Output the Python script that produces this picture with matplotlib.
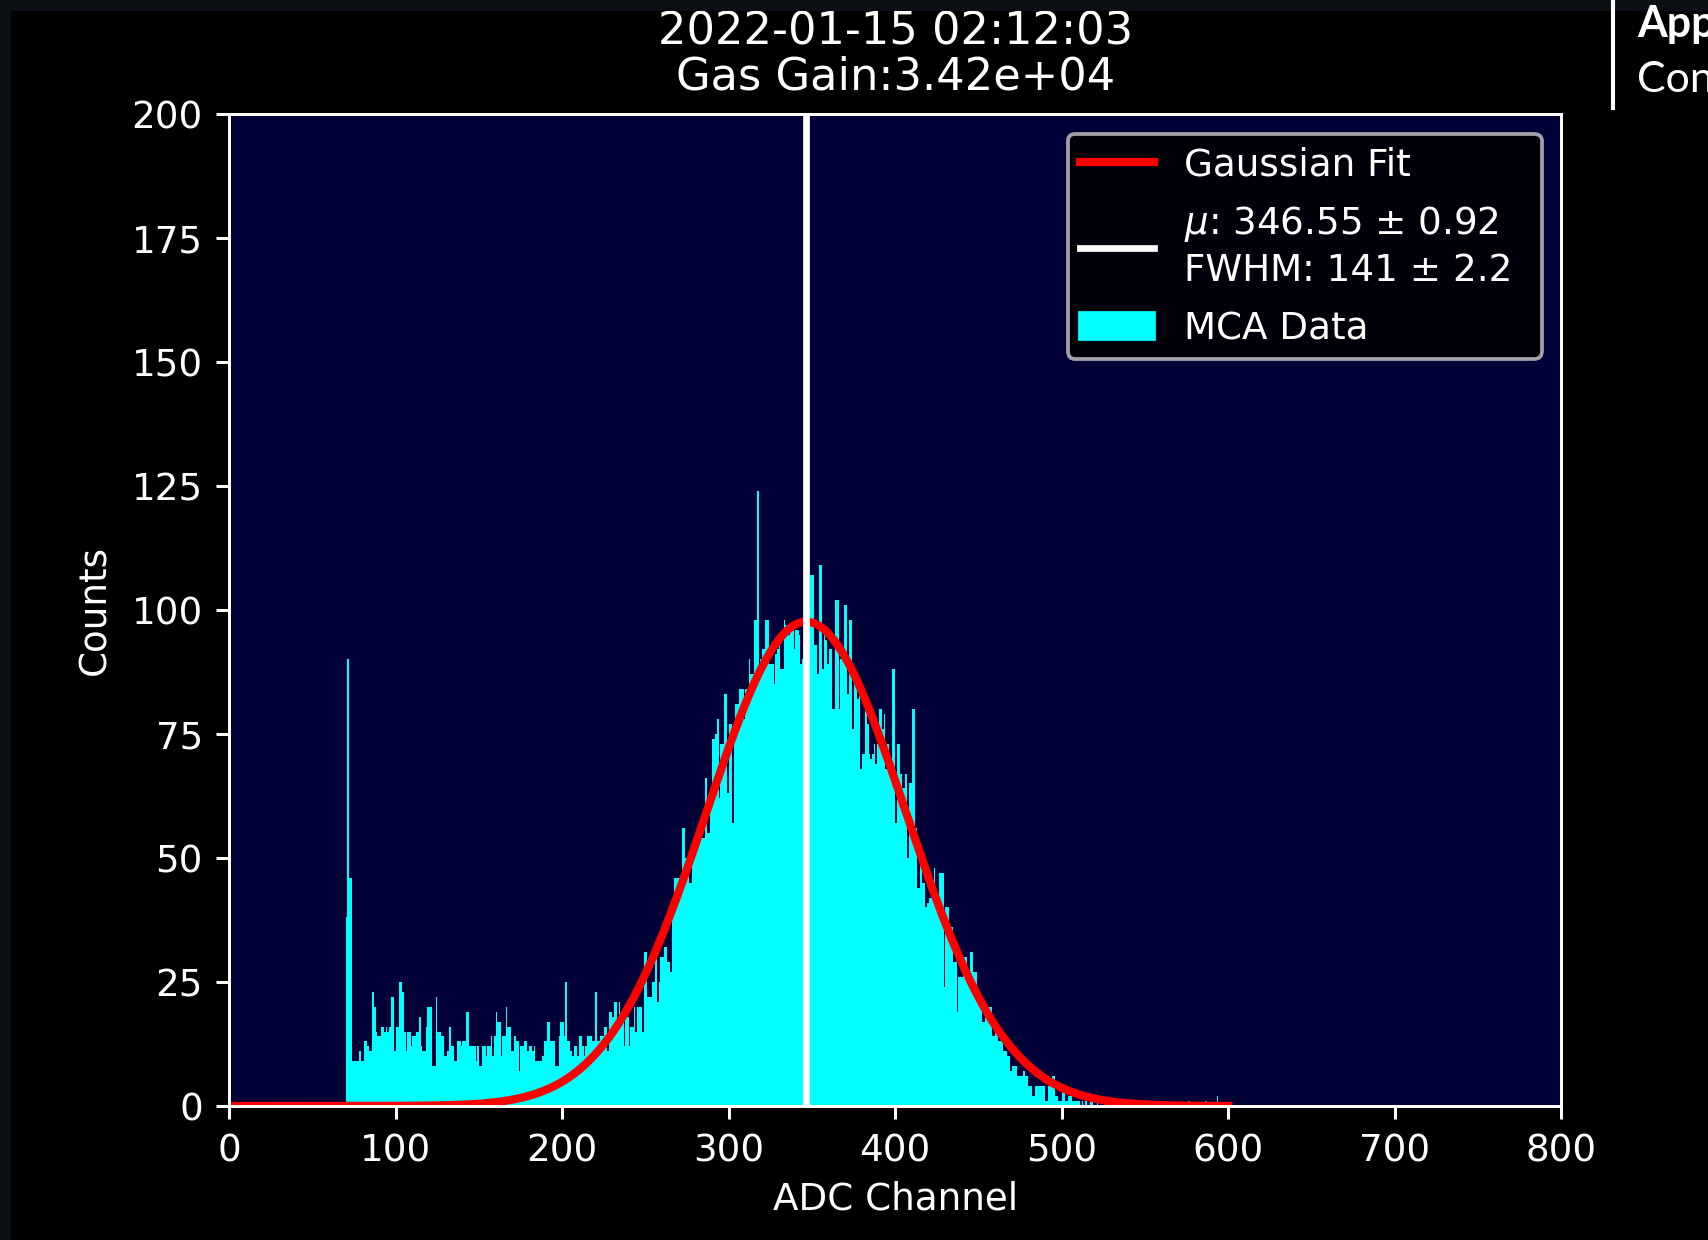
import matplotlib
matplotlib.use("Agg")
import matplotlib.pyplot as plt
import numpy as np
from matplotlib.lines import Line2D
from matplotlib.patches import Patch, Rectangle

# run info shown in the title / legend
timestamp = "2022-01-15 02:12:03"
gas_gain = 3.42e4
mu, mu_err = 346.55, 0.92
fwhm, fwhm_err = 141, 2.2
amplitude = 97.6
fit_start, fit_stop = 0, 600

# MCA counts per ADC channel, starting at channel 70
channel_start = 70
counts = [
    38, 90, 46, 46, 9, 9, 9, 9, 11, 9,
    9, 13, 13, 12, 11, 11, 23, 20, 15, 14,
    14, 16, 16, 15, 16, 15, 16, 22, 22, 11,
    16, 16, 25, 25, 23, 15, 11, 15, 15, 12,
    14, 14, 15, 15, 18, 12, 11, 11, 16, 20,
    20, 20, 8, 8, 22, 15, 15, 14, 14, 10,
    10, 11, 16, 12, 12, 9, 9, 13, 13, 12,
    13, 13, 19, 19, 12, 12, 12, 12, 9, 12,
    8, 8, 12, 12, 10, 12, 12,
    14, 10, 14, 19, 17, 17, 10, 14, 14, 20,
    16, 16, 11, 11, 14, 13, 13, 7, 12, 12,
    13, 13, 11, 12, 12, 11, 12, 9, 9, 9,
    9, 10, 13, 13, 17, 17, 13, 13, 13, 8,
    8, 14, 17, 17, 14, 25, 13, 13, 11, 10,
    12, 12, 10, 14, 14, 12, 10, 12, 14, 14,
    14, 13, 13, 23, 13, 13, 14, 14, 16, 16,
    11, 19, 19, 18, 21, 21, 16, 21, 18, 18,
    12, 18, 18, 12, 16, 16, 20, 15, 20, 20,
    20, 15, 31, 31, 22, 22, 22, 25, 25, 30,
    21, 25, 30, 30, 32, 32, 29, 29, 27, 38,
    46, 46, 46, 46, 46, 56, 56, 50, 50, 45,
    45, 50, 52, 52, 56, 54, 54, 54, 54, 66,
    55, 55, 62, 74, 74, 75, 78, 62, 73, 73,
    83, 83, 63, 77, 77, 57, 77, 81, 81, 84,
    84, 84, 78, 84, 84, 90, 87, 87, 98, 98,
    124, 88, 90, 92, 92, 98, 98, 89, 89, 89,
    85, 91, 92, 93, 88, 88, 98, 97, 97, 95,
    96, 96, 92, 96, 96, 95, 89, 90, 97, 97,
    98, 100, 107, 107, 93, 93, 87, 109, 109, 88,
    96, 94, 89, 92, 92, 80, 80, 102, 102, 80,
    90, 92, 101, 101, 83, 98, 98, 76, 88, 86,
    82, 83, 68, 71, 71, 80, 77, 71, 70, 71,
    73, 69, 73, 80, 80, 76, 79, 68, 73, 69,
    69, 88, 88, 57, 73, 73, 67, 64, 64, 67,
    50, 65, 65, 80, 80, 56, 44, 44, 49, 45,
    45, 40, 41, 42, 42, 42, 48, 42, 42, 47,
    47, 47, 24, 40, 40, 36, 36, 36, 29, 29,
    19, 26, 26, 26, 30, 30, 26, 26, 31, 31,
    27, 27, 22, 22, 22, 17, 17, 20, 20, 20,
    20, 14, 14, 15, 15, 13, 13, 13, 11, 11,
    10, 10, 7, 8, 8, 8, 6, 6, 6, 6,
    7, 6, 6, 4, 4, 2, 2, 4, 4, 4,
    4, 4, 4, 1, 1, 4, 4, 6, 6, 2,
    2, 1, 1, 3, 3, 1, 1, 2, 2, 1,
    1, 1, 1, 1, 0, 1, 0, 1, 0, 0,
    1, 1, 0, 0, 1, 0, 0, 0, 0, 1,
    0, 0, 0, 1, 0, 0, 0, 0, 0, 0,
    0, 1, 0, 0, 0, 0, 0, 0, 0, 0,
    0, 0, 0, 0, 1, 0, 0, 0, 0, 0,
    0, 0, 0, 0, 1, 0, 0, 0, 0, 0,
    0, 0, 0, 0, 0, 0, 0, 0, 0, 1,
    0, 0, 0, 0, 0, 0, 0, 0, 0, 1,
    0, 0, 0, 0, 0, 0, 2, 0, 0, 0,
    0, 0, 0, 0,
]

plt.style.use("dark_background")

DPI = 268.6
W, H = 1708, 1240
fig = plt.figure(figsize=((W + 0.4) / DPI, (H + 0.4) / DPI), dpi=DPI)
fig.patch.set_facecolor("black")

# page chrome around the embedded plot
fig.patches.append(Rectangle((0, 1 - 9 / H), 1, 9 / H, transform=fig.transFigure,
                             color="#0c1015", zorder=0))
fig.patches.append(Rectangle((0, 0), 9 / W, 1, transform=fig.transFigure,
                             color="#0c1015", zorder=0))
fig.lines.append(Line2D([1613 / W, 1613 / W], [1 - 108 / H, 1], transform=fig.transFigure,
                        color="white", lw=1.1))
fig.text(1637 / W, 1 - 37 / H, "App", color="white", fontsize=11.5,
         fontweight="bold", family="Lato", va="baseline")
fig.text(1637 / W, 1 - 92 / H, "Con", color="white", fontsize=11.5,
         family="Lato", va="baseline")

ax = fig.add_axes([229 / W, 1 - 1106 / H, 1332 / W, 992 / H])
ax.set_facecolor("#000036")

channels = np.arange(channel_start, channel_start + len(counts))
ax.bar(channels, counts, width=1, align="edge", color="cyan", linewidth=0)

sigma = fwhm / (2 * np.sqrt(2 * np.log(2)))
xfit = np.linspace(fit_start, fit_stop, 601)
fit_line, = ax.plot(xfit, amplitude * np.exp(-(xfit - mu) ** 2 / (2 * sigma ** 2)),
                    color="red", lw=2.2)
mu_line = ax.axvline(mu, color="white", lw=1.8)

ax.set_xlim(0, 800)
ax.set_ylim(0, 200)
ax.set_yticks(np.arange(0, 201, 25))
ax.set_xlabel("ADC Channel", labelpad=3)
ax.set_ylabel("Counts", labelpad=5)
ax.set_title(f"{timestamp}\nGas Gain:{gas_gain:.2e}", linespacing=1.05, pad=6.6)

leg = ax.legend([fit_line, mu_line, Patch(color="cyan")],
                ["Gaussian Fit",
                 f"$\\mu$: {mu} ± {mu_err}\nFWHM: {fwhm} ± {fwhm_err}",
                 "MCA Data"],
                loc="upper left", bbox_to_anchor=(0.6295, 0.0, 0.3558, 0.9798),
                mode="expand", borderaxespad=0, borderpad=0.32, labelspacing=0.57)
for t in leg.get_texts():
    t.set_linespacing(1.26)

fig.savefig("out.png", dpi=DPI, facecolor=fig.get_facecolor())
